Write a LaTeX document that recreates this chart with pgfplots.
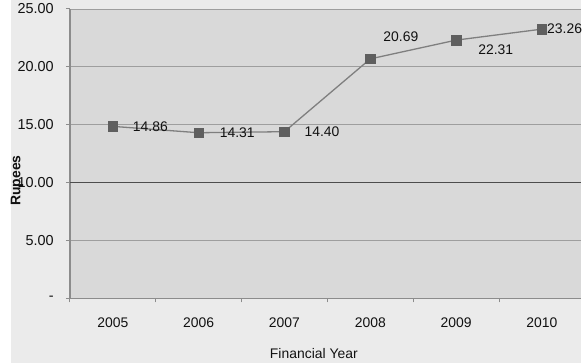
\documentclass[border=0pt]{standalone}
\usepackage{pgfplots}
\pgfplotsset{compat=1.18}
\usepackage{fontspec}
\setmainfont{Liberation Sans}

\definecolor{outerbg}{HTML}{EBEBEB}
\definecolor{plotbg}{HTML}{D9D9D9}
\definecolor{gridc}{HTML}{9E9E9E}
\definecolor{gridd}{HTML}{4D4D4D}
\definecolor{axisc}{HTML}{8C8C8C}
\definecolor{linec}{HTML}{7F7F7F}
\definecolor{markc}{HTML}{5F5F5F}
\definecolor{textc}{HTML}{111111}

\begin{document}
\begin{tikzpicture}
% chart background
\fill[white] (-70bp,-65bp) rectangle (512bp,299bp);
\fill[outerbg] (-59bp,-65bp) rectangle (512bp,299bp);
\begin{axis}[
  at={(0,0)}, anchor=south west,
  scale only axis,
  width=512bp, height=290bp,
  xmin=0, xmax=5.953,
  ymin=0, ymax=25,
  clip=false,
  axis background/.style={fill=plotbg},
  axis x line*=bottom,
  axis y line*=left,
  axis line style={draw=axisc, line width=1.5bp},
  xtick={0.5,1.5,2.5,3.5,4.5,5.5},
  xticklabels={2005,2006,2007,2008,2009,2010},
  minor xtick={0,1,2,3,4,5},
  major x tick style={draw=none},
  minor x tick style={draw=axisc, line width=1bp},
  tick align=outside,
  minor tick length=4bp,
  major tick length=4bp,
  ytick={0,5,15,20,25},
  yticklabels={-\hspace{17bp},5.00,15.00,20.00,25.00},
  extra y ticks={10},
  extra y tick labels={10.00},
  extra y tick style={grid style={draw=gridd, line width=1bp}},
  ytick style={draw=axisc, line width=1bp},
  ymajorgrids=true,
  grid style={draw=gridc, line width=0.9bp},
  tick label style={font=\fontsize{14}{16}\selectfont, text=textc},
  yticklabel style={anchor=east, inner sep=0pt, xshift=-12bp,
    font=\fontsize{14.5}{16}\selectfont},
  xticklabel style={anchor=center, inner sep=0pt, yshift=-20bp},
  xlabel={Financial Year},
  xlabel style={at={(axis description cs:0.4775,-0.19)}, anchor=center,
    font=\fontsize{14}{16}\selectfont, text=textc},
  ylabel={\bfseries Rupees},
  ylabel style={at={(axis description cs:-0.1035,0.407)}, anchor=center,
    font=\fontsize{14}{16}\selectfont, text=textc},
]
\addplot[
  color=linec, line width=1.3bp,
  mark=square*, mark size=4.8bp,
  mark options={fill=markc, draw=markc, line width=0.5bp},
  point meta=y,
  visualization depends on={\thisrow{dx} \as \dx},
  visualization depends on={\thisrow{dy} \as \dy},
  nodes near coords={\pgfmathprintnumber[fixed,fixed zerofill,precision=2,assume math mode=true]{\pgfplotspointmeta}},
  nodes near coords style={anchor=west, inner sep=0pt,
    xshift=\dx bp, yshift=\dy bp,
    font=\fontsize{14}{16}\selectfont, text=textc},
] table[row sep=\\] {
  x   y     dx  dy \\
  0.5 14.86 20  0  \\
  1.5 14.31 21  0  \\
  2.5 14.40 20  0  \\
  3.5 20.69 13  22 \\
  4.5 22.31 22  -10 \\
  5.5 23.26 5   0  \\
};
\end{axis}
\end{tikzpicture}
\end{document}
